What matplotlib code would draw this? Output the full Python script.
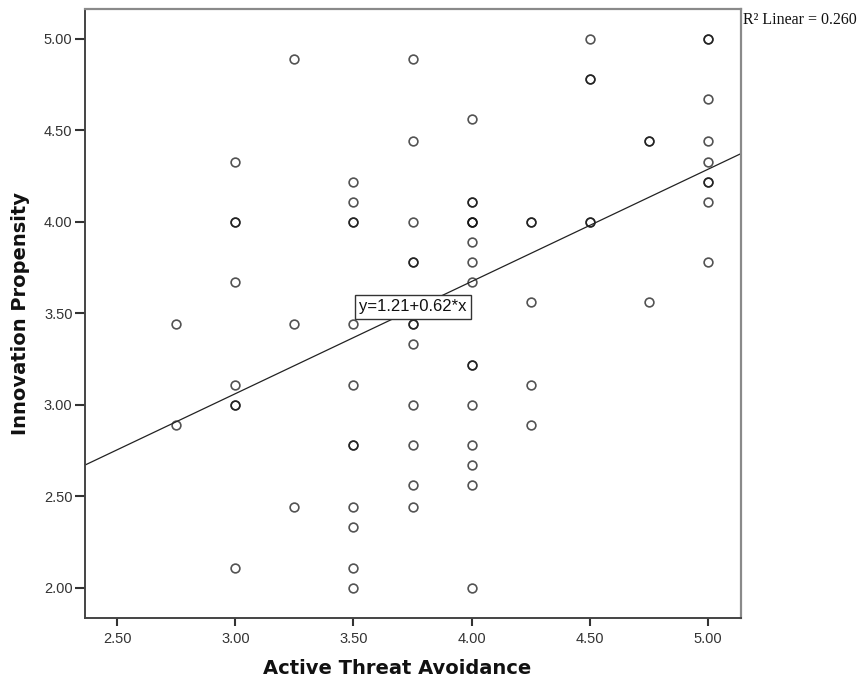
import numpy as np
import matplotlib.pyplot as plt

# Active Threat Avoidance levels and the Innovation Propensity values seen at each
# (repeated values are the darker, overlapping circles)
x_levels = [2.75, 3.00, 3.25, 3.50, 3.75, 4.00, 4.25, 4.50, 4.75, 5.00]
y_at_275 = [3.44, 2.89]
y_at_300 = [4.33, 4.00, 4.00, 3.67, 3.11, 3.00, 3.00, 2.11]
y_at_325 = [4.89, 3.44, 2.44]
y_at_350 = [4.22, 4.11, 4.00, 4.00, 3.44, 3.11, 2.78, 2.78, 2.44, 2.33, 2.11, 2.00]
y_at_375 = [4.89, 4.44, 4.00, 3.78, 3.78, 3.44, 3.44, 3.33, 3.00, 2.78, 2.56, 2.44]
y_at_400 = [4.56, 4.11, 4.11, 4.00, 4.00, 4.00, 3.89, 3.78, 3.67, 3.22, 3.22,
            3.00, 2.78, 2.67, 2.56, 2.00]
y_at_425 = [4.00, 4.00, 3.56, 3.11, 2.89]
y_at_450 = [5.00, 4.78, 4.78, 4.00, 4.00]
y_at_475 = [4.44, 4.44, 3.56]
y_at_500 = [5.00, 5.00, 4.67, 4.44, 4.33, 4.22, 4.22, 4.11, 3.78]

y_groups = [y_at_275, y_at_300, y_at_325, y_at_350, y_at_375,
            y_at_400, y_at_425, y_at_450, y_at_475, y_at_500]

# fit line as drawn
fit_intercept = 1.222
fit_slope = 0.613
fit_label = "y=1.21+0.62*x"
r2_label = "R\u00b2 Linear = 0.260"

x_ticks = [2.5, 3.0, 3.5, 4.0, 4.5, 5.0]
y_ticks = [2.0, 2.5, 3.0, 3.5, 4.0, 4.5, 5.0]

xs = np.concatenate([[xv] * len(g) for xv, g in zip(x_levels, y_groups)])
ys = np.concatenate(y_groups)

fig = plt.figure(figsize=(8.64, 6.83), dpi=100)
ax = fig.add_axes([85 / 864, 1 - 617.7 / 683, (741 - 85) / 864, (617.7 - 9) / 683])

xmin, xmax = 2.363, 5.141
ymin, ymax = 1.836, 5.164
ax.set_xlim(xmin, xmax)
ax.set_ylim(ymin, ymax)

ax.plot(xs, ys, linestyle='none', marker='o', markersize=6.3,
        markerfacecolor='none', markeredgecolor='#111111', markeredgewidth=1.2,
        alpha=0.72)

line_x = np.array([xmin, xmax])
ax.plot(line_x, fit_intercept + fit_slope * line_x, color='#222222', lw=0.9)

ax.text(3.752, 3.535, fit_label, ha='center', va='center', fontsize=12,
        family='Liberation Sans', color='#111111',
        bbox=dict(boxstyle='square,pad=0.25', facecolor='white',
                  edgecolor='#333333', linewidth=1.0))

ax.set_xticks(x_ticks)
ax.set_yticks(y_ticks)
ax.set_xticklabels(['%.2f' % v for v in x_ticks])
ax.set_yticklabels(['%.2f' % v for v in y_ticks])
for lab in ax.get_xticklabels() + ax.get_yticklabels():
    lab.set_family('Liberation Sans')
    lab.set_fontsize(10.5)
    lab.set_color('#333333')
ax.tick_params(axis='x', direction='out', length=6, width=1.5, color='#333333', pad=4)
ax.tick_params(axis='y', direction='out', length=7, width=1.5, color='#333333', pad=2)

for side in ['left', 'bottom']:
    ax.spines[side].set_color('#444444')
    ax.spines[side].set_linewidth(1.4)
for side in ['top', 'right']:
    ax.spines[side].set_color('#8a8a8a')
    ax.spines[side].set_linewidth(1.6)

fig.text(397.5 / 864, 1 - 668 / 683, "Active Threat Avoidance", ha='center',
         va='center', fontsize=14, fontweight='bold', family='DejaVu Sans',
         color='#111111')
fig.text(20.5 / 864, 1 - 313.4 / 683, "Innovation Propensity", ha='center',
         va='center', rotation=90, fontsize=14, fontweight='bold',
         family='DejaVu Sans', color='#111111')

fig.text(743 / 864, 1 - 20 / 683, r2_label, ha='left', va='center',
         fontsize=11.5, family='Liberation Serif', color='#111111')

fig.savefig("out.png", dpi=100)
